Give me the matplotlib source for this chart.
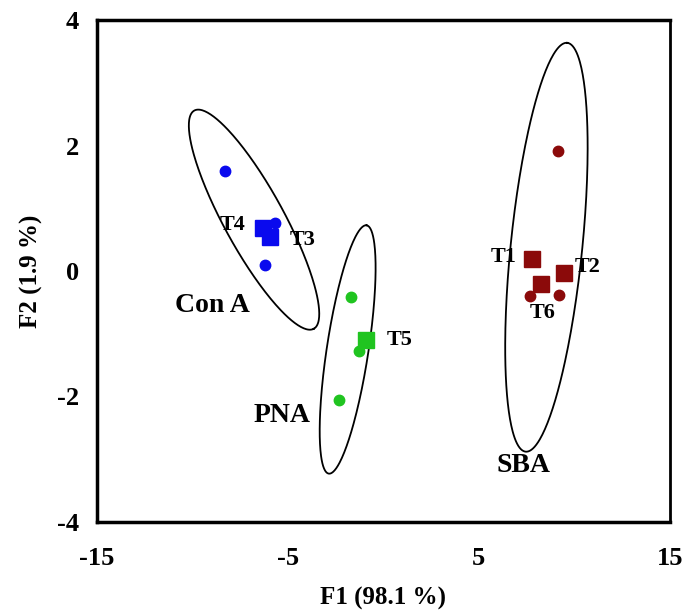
import numpy as np
import matplotlib
matplotlib.use('Agg')
import matplotlib.pyplot as plt

# ------------Данные---------------------------------------------

# Con A (blue)
cona_cx = [-8.28, -5.68, -6.2]
cona_cy = [1.6, 0.77, 0.1]
cona_sx = [-6.3, -5.95]
cona_sy = [0.68, 0.55]

# PNA (green)
pna_cx = [-1.72, -1.3, -2.34]
pna_cy = [-0.42, -1.28, -2.05]
pna_sx = [-0.89]
pna_sy = [-1.1]

# SBA (dark red)
sba_cx = [9.17, 7.66, 9.22]
sba_cy = [1.92, -0.4, -0.38]
sba_sx = [7.76, 9.48, 8.23]
sba_sy = [0.19, -0.03, -0.21]

# ellipses: centre, half long axis, half short axis (data units)
ell_center = [(-6.78, 0.82), (-1.875, -1.25), (8.54, 0.38)]
ell_u = [(3.13, -1.74), (0.99, 1.98), (1.09, 3.26)]
ell_v = [(1.37, 0.23), (1.08, -0.05), (1.865, -0.06)]

# text labels
labels = ['T4', 'T3', 'Con A', 'T5', 'PNA', 'T1', 'T2', 'T6', 'SBA']
lab_x = [-7.9, -4.25, -8.95, 0.85, -5.3, 6.3, 10.7, 8.33, 7.35]
lab_y = [0.74, 0.5, -0.55, -1.1, -2.3, 0.23, 0.06, -0.67, -3.1]
lab_size = [16, 16, 20, 16, 20, 16, 16, 16, 20]

# ------------Построение графика---------------------------------

serif = ['Liberation Serif', 'DejaVu Serif']
plt.rcParams['axes.unicode_minus'] = False

fig = plt.figure(figsize=(6.94, 6.14), dpi=100)
ax = fig.add_axes([0.14, 0.15, 0.825, 0.817])

t = np.linspace(0, 2 * np.pi, 300)
for (cx, cy), (ux, uy), (vx, vy) in zip(ell_center, ell_u, ell_v):
    ex = cx + ux * np.cos(t) + vx * np.sin(t)
    ey = cy + uy * np.cos(t) + vy * np.sin(t)
    ax.plot(ex, ey, color='black', lw=1.3)

ax.plot(cona_cx, cona_cy, 'o', color='#0a0aee', ms=7.5, ls='none')
ax.plot(cona_sx, cona_sy, 's', color='#0a0aee', ms=12, ls='none')
ax.plot(pna_cx, pna_cy, 'o', color='#20c420', ms=7.5, ls='none')
ax.plot(pna_sx, pna_sy, 's', color='#20c420', ms=12, ls='none')
ax.plot(sba_cx, sba_cy, 'o', color='#8b0a0a', ms=7.5, ls='none')
ax.plot(sba_sx, sba_sy, 's', color='#8b0a0a', ms=12, ls='none')

for txt, x, y, s in zip(labels, lab_x, lab_y, lab_size):
    ax.text(x, y, txt, fontsize=s, fontweight='bold', family=serif,
            ha='center', va='center')

ax.set_xlim(-15, 15)
ax.set_ylim(-4, 4)
ax.set_xticks([-15, -5, 5, 15])
ax.set_yticks([-4, -2, 0, 2, 4])
ax.tick_params(length=0, labelsize=19)
ax.tick_params(axis='x', pad=18)
ax.tick_params(axis='y', pad=13)
for lab in ax.get_xticklabels() + ax.get_yticklabels():
    lab.set_fontweight('bold')
    lab.set_family(serif)

for side in ['left', 'bottom', 'top']:
    ax.spines[side].set_linewidth(2.5)
ax.spines['right'].set_linewidth(2.0)

ax.set_xlabel('F1 (98.1 %)', fontsize=18, fontweight='bold', family=serif, labelpad=12)
ax.set_ylabel('F2 (1.9 %)', fontsize=18, fontweight='bold', family=serif, labelpad=10)

plt.savefig('out.png', dpi=100)
